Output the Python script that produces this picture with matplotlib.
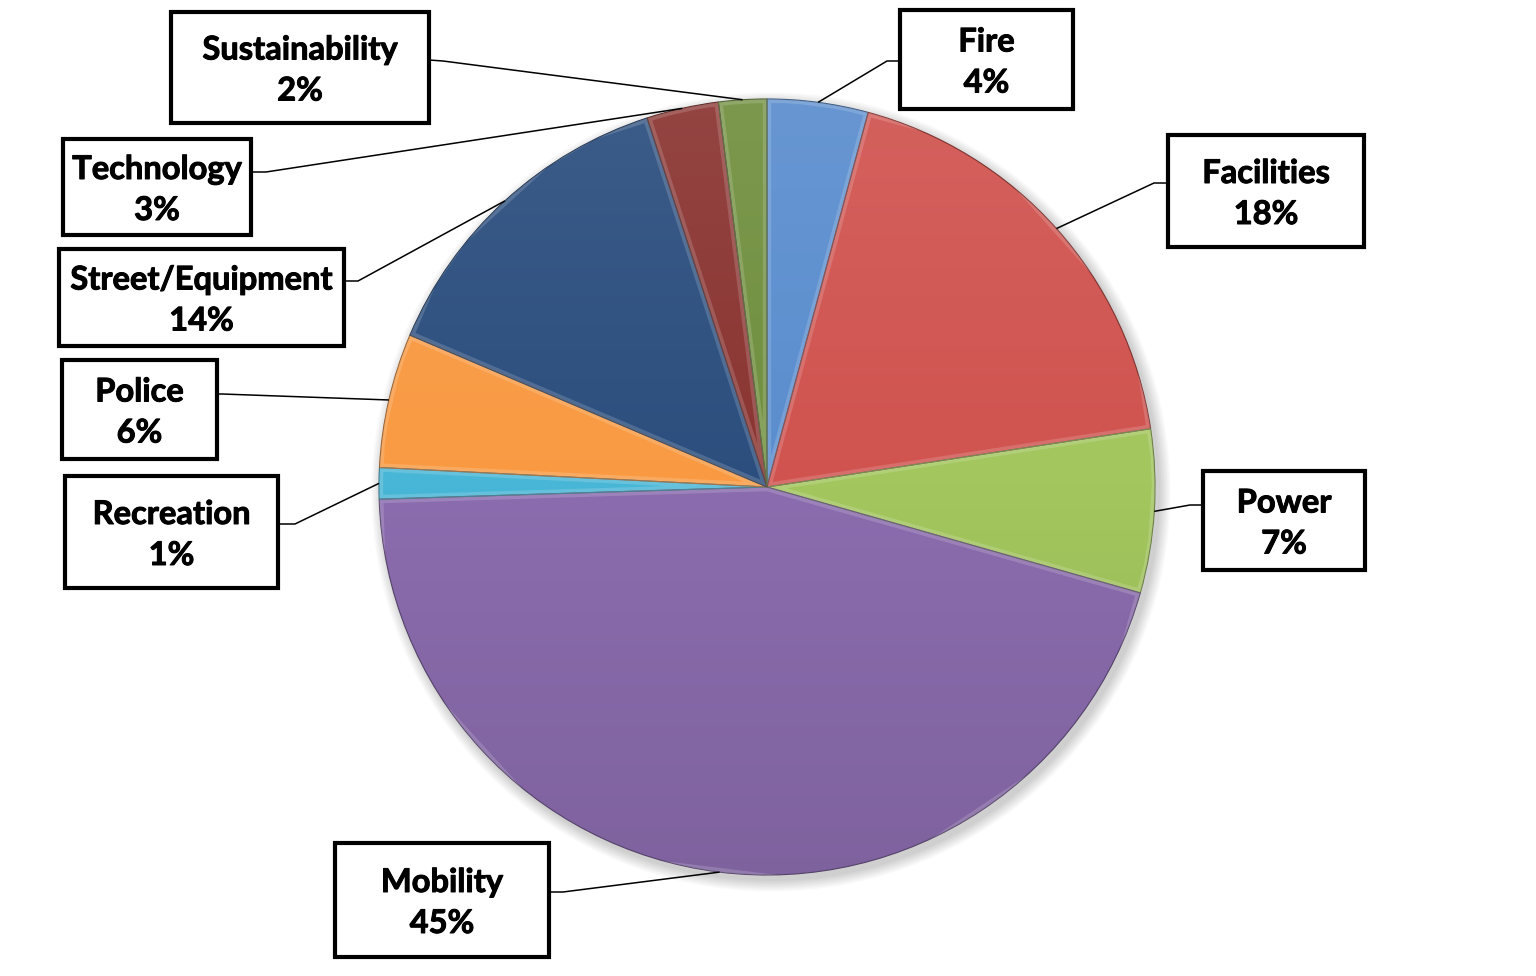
import numpy as np
import matplotlib.pyplot as plt
import matplotlib.patheffects as pe
from matplotlib.patches import Rectangle, Circle
from matplotlib.colors import to_rgb

# data (share of total, %)
categories = ["Fire", "Facilities", "Power", "Mobility", "Recreation",
              "Police", "Street/Equipment", "Technology", "Sustainability"]
shares = [4.2, 18.4, 6.8, 45.1, 1.3, 5.6, 13.6, 3.0, 2.0]
colors = ["#5A8DCE", "#D0534F", "#A3C65E", "#8B6CAE", "#48B6D6",
          "#F99A43", "#2B4E7E", "#8A3431", "#708F3E"]

# layout in pixels (y measured from the top of the picture)
W, H = 1536, 976
cx, cy, R = 767, 487, 388
boxes = [(900, 10, 1073, 109), (1168, 135, 1364, 247), (1203, 471, 1365, 570),
         (335, 843, 549, 957), (65, 476, 278, 588), (62, 360, 217, 459),
         (59, 249, 344, 346), (63, 139, 251, 235), (171, 12, 429, 123)]
anchors = [(900, 61), (1168, 183), (1203, 505), (549, 892), (278, 524),
           (217, 394), (344, 281), (251, 172), (429, 60)]
elbows = [(887, 61), (1154, 183), (1190, 505), (563, 892), (295, 524),
          (222, 394), (358, 281), (266, 172), (443, 61)]


def Y(y):
    return H - y


fig = plt.figure(figsize=(W / 100, H / 100), dpi=100)
ax = fig.add_axes([0, 0, 1, 1])

# soft shadow under the pie
for i in range(8):
    ax.add_patch(Circle((cx + 4, Y(cy) - 5), R + 1 + i * 1.5, color="black",
                        alpha=0.025, lw=0, zorder=0))
ax.add_patch(Circle((cx, Y(cy)), R, color="white", lw=0, zorder=0.5))

wedges, _ = ax.pie(shares, colors=colors, startangle=90, counterclock=False,
                   center=(cx, Y(cy)), radius=R,
                   wedgeprops=dict(linewidth=0))

# vertical gradient + bevel-ish edge for every slice
ny = 400
t = np.linspace(1, -1, ny)[:, None]
for w, c in zip(wedges, colors):
    base = np.array(to_rgb(c))
    img = np.zeros((ny, 2, 3))
    for k in range(3):
        up = base[k] + (1 - base[k]) * 0.08 * np.clip(t, 0, 1)
        down = base[k] * (1 + 0.09 * np.clip(t, -1, 0))
        img[:, :, k] = np.where(t > 0, up, down)
    im = ax.imshow(img, extent=(cx - R, cx + R, Y(cy) - R, Y(cy) + R),
                   aspect="auto", zorder=1, interpolation="bilinear")
    im.set_clip_path(w)
    w.set_facecolor("none")
    w.set_zorder(2)
    hl = plt.Polygon(w.get_path().vertices, closed=True, fill=False,
                     edgecolor="white", alpha=0.16, lw=6, zorder=2)
    ax.add_patch(hl)
    hl.set_clip_path(w)
    w.set_edgecolor(tuple(base * 0.6))
    w.set_linewidth(0.8)

# labels with leader lines
angles = 90 - 360 * (np.cumsum(shares) - np.array(shares) / 2) / 100
stroke = [pe.withStroke(linewidth=0.7, foreground="black")]
for i, name in enumerate(categories):
    a = np.deg2rad(angles[i])
    px, py = cx + R * np.cos(a), Y(cy) + R * np.sin(a)
    ax_, ay_ = anchors[i]
    ex, ey = elbows[i]
    ax.plot([ax_, ex, px], [Y(ay_), Y(ey), py], color="black", lw=1.1,
            zorder=3, solid_capstyle="butt")
    x0, y0, x1, y1 = boxes[i]
    ax.add_patch(Rectangle((x0, Y(y1)), x1 - x0, y1 - y0, facecolor="white",
                           edgecolor="black", lw=3, zorder=4,
                           joinstyle="miter"))
    mx, my = (x0 + x1) / 2, (y0 + y1) / 2
    ax.text(mx, Y(my - 8), name, ha="center", va="baseline",
            fontsize=23.5, fontweight="bold", family="Lato", zorder=5,
            path_effects=stroke)
    ax.text(mx, Y(my + 33), f"{round(shares[i])}%", ha="center",
            va="baseline", fontsize=23.5, fontweight="bold", family="Lato",
            zorder=5, path_effects=stroke)

ax.set_xlim(0, W)
ax.set_ylim(0, H)
ax.set_aspect("equal")
ax.axis("off")

fig.savefig("out.png", dpi=100, facecolor="white")
